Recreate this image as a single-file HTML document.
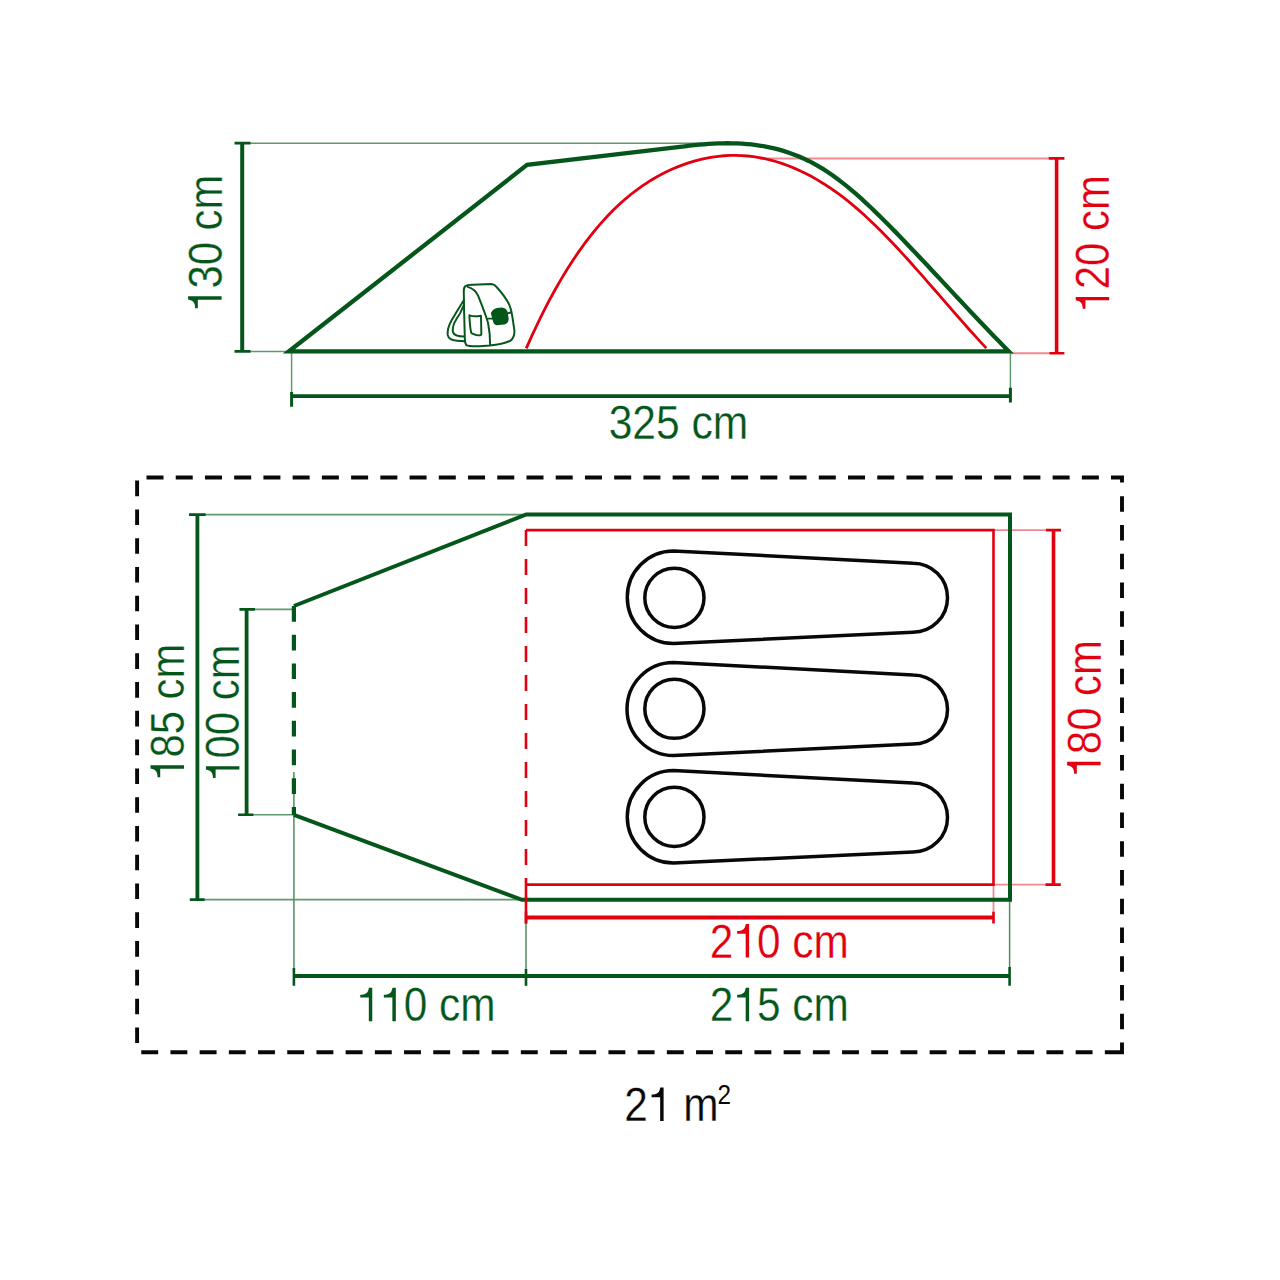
<!DOCTYPE html>
<html><head><meta charset="utf-8">
<style>
html,body{margin:0;padding:0;background:#fff;width:1280px;height:1280px;overflow:hidden}
svg{display:block}
text{font-family:"Liberation Sans",sans-serif}
</style></head><body>
<svg width="1280" height="1280" viewBox="0 0 1280 1280">
<rect width="1280" height="1280" fill="#fff"/>
<g fill="none">
<path d="M250 143.2 H715 M250 351.4 H290" stroke="#5f9a6d" stroke-width="1.5" />
<path d="M291.6 351 V392 M1010.4 351 V388" stroke="#5f9a6d" stroke-width="1.5" />
<path d="M760 158.4 H1049 M1010 353.2 H1049" stroke="#f08a90" stroke-width="2" />
<path d="M242.2 143.1 V351.4" stroke="#05561b" stroke-width="4" />
<path d="M234.5 143.1 H250.5 M234.5 351.4 H250.5" stroke="#05561b" stroke-width="2.6" />
<path d="M291.6 396.1 H1010.4" stroke="#05561b" stroke-width="3.6" />
<path d="M291.6 392 V406.7 M1010.4 387.7 V402.4" stroke="#05561b" stroke-width="3" />
<path d="M1056.6 158.4 V353.2" stroke="#e1000f" stroke-width="3.6" />
<path d="M1048.8 158.4 H1064.4 M1049.3 353.2 H1064.4" stroke="#e1000f" stroke-width="2.6" />
<path d="M526.25 348.35 L532.07 335.37 L537.90 322.98 L543.72 311.18 L549.54 299.95 L555.36 289.28 L561.19 279.14 L567.01 269.54 L572.83 260.44 L578.66 251.84 L584.48 243.72 L590.30 236.07 L596.12 228.87 L601.95 222.10 L607.77 215.75 L613.59 209.81 L619.41 204.25 L625.24 199.07 L631.06 194.26 L636.88 189.78 L642.71 185.64 L648.53 181.80 L654.35 178.27 L660.17 175.03 L666.00 172.05 L671.82 169.32 L677.64 166.84 L683.47 164.61 L689.29 162.61 L695.11 160.86 L700.93 159.35 L706.76 158.09 L712.58 157.06 L718.40 156.28 L724.22 155.74 L730.05 155.45 L735.87 155.39 L741.69 155.58 L747.52 156.01 L753.34 156.68 L759.16 157.59 L764.98 158.74 L770.81 160.13 L776.63 161.76 L782.45 163.63 L788.28 165.75 L794.10 168.10 L799.92 170.69 L805.74 173.52 L811.57 176.59 L817.39 179.90 L823.21 183.44 L829.03 187.22 L834.86 191.23 L840.68 195.48 L846.50 199.96 L852.33 204.67 L858.15 209.62 L863.97 214.80 L869.79 220.19 L875.62 225.77 L881.44 231.54 L887.26 237.48 L893.09 243.56 L898.91 249.78 L904.73 256.12 L910.55 262.55 L916.38 269.08 L922.20 275.67 L928.02 282.31 L933.84 288.99 L939.67 295.69 L945.49 302.40 L951.31 309.10 L957.14 315.76 L962.96 322.39 L968.78 328.95 L974.60 335.44 L980.43 341.83 L986.25 348.12" stroke="#e1000f" stroke-width="2.8" stroke-linejoin="round"/>
<path d="M289 351.3 L527 164.9 L680.00 146.89 L684.76 146.29 L689.53 145.72 L694.29 145.20 L699.06 144.73 L703.82 144.31 L708.59 143.96 L713.35 143.67 L718.12 143.45 L722.88 143.32 L727.64 143.26 L732.41 143.30 L737.17 143.44 L741.94 143.67 L746.70 144.02 L751.47 144.47 L756.23 145.05 L761.00 145.75 L765.76 146.58 L770.53 147.55 L775.29 148.67 L780.05 149.93 L784.82 151.34 L789.58 152.92 L794.35 154.66 L799.11 156.57 L803.88 158.66 L808.64 160.94 L813.41 163.40 L818.17 166.06 L822.93 168.91 L827.70 171.98 L832.46 175.24 L837.23 178.70 L841.99 182.34 L846.76 186.14 L851.52 190.10 L856.29 194.20 L861.05 198.44 L865.82 202.79 L870.58 207.26 L875.34 211.83 L880.11 216.49 L884.87 221.22 L889.64 226.02 L894.40 230.87 L899.17 235.76 L903.93 240.70 L908.70 245.67 L913.46 250.67 L918.22 255.70 L922.99 260.75 L927.75 265.82 L932.52 270.91 L937.28 276.01 L942.05 281.12 L946.81 286.23 L951.58 291.35 L956.34 296.45 L961.11 301.56 L965.87 306.65 L970.63 311.72 L975.40 316.77 L980.16 321.81 L984.93 326.81 L989.69 331.78 L994.46 336.72 L999.22 341.62 L1003.99 346.47 L1008.75 351.28 Z" stroke="#05561b" stroke-width="4.3" stroke-linejoin="miter"/>
</g>
<g transform="translate(436 277) scale(0.07031)" fill="none" stroke="#05561b" stroke-width="28" stroke-linejoin="round" stroke-linecap="round">
<path d="M420 130 Q440 112 520 110 L790 100 Q830 105 855 135 Q980 270 1040 390 Q1075 470 1085 560 L1115 760 Q1120 860 1060 905 Q960 955 760 975 L620 985 Q470 990 430 968 Q412 945 410 880 L400 500 L395 200 Q395 145 420 130 Z"/>
<path d="M450 140 Q560 170 600 270 Q700 520 740 650 Q770 800 770 972"/>
<path d="M395 330 Q300 480 220 620 Q160 730 165 820 Q180 900 300 908 L410 915"/>
<path d="M392 405 Q350 520 290 600 Q230 690 240 780 Q260 845 400 845"/>
<path d="M475 545 Q550 570 640 550 L645 810 Q640 832 600 830 Q520 815 500 790 Q480 700 475 545 Z"/>
<path d="M740 592 L820 592 M1000 522 L1062 505"/>
<path d="M795 515 Q815 470 870 455 L935 448 Q990 455 1005 500 L1020 600 Q1015 650 970 663 L860 672 Q835 668 828 640 Z" fill="#05561b"/>
</g>
<g fill="none">
<path d="M146.5 477.5 H1111" stroke="#080808" stroke-width="3.9" stroke-dasharray="17 12.23"/>
<path d="M1111 477.5 H1122 V482.5" stroke="#080808" stroke-width="3.9" />
<path d="M137.1 480.6 V1043.1" stroke="#080808" stroke-width="3.9" stroke-dasharray="15.6 13.18"/>
<path d="M1122 496.25 V1029.4" stroke="#080808" stroke-width="3.9" stroke-dasharray="15.6 13.15"/>
<path d="M141.25 1052.25 H1105" stroke="#080808" stroke-width="3.9" stroke-dasharray="16.9 12.3"/>
<path d="M1105 1052.25 H1122 V1042.5" stroke="#080808" stroke-width="3.9" />
<path d="M205 514.6 H526 M205 899.65 H522 M255 609.4 H293.9 M253.6 814.8 H293.9" stroke="#5f9a6d" stroke-width="1.6" />
<path d="M293.9 772 V975 M526 923 V985.8 M1009.6 900 V967" stroke="#4f8c5e" stroke-width="1.5" />
<path d="M993.5 530.1 H1046 M993.5 884.6 H1046 M993.5 884.6 V911" stroke="#f08a90" stroke-width="1.8" />
<path d="M197.4 514.6 V899.65" stroke="#05561b" stroke-width="3.8" />
<path d="M189 514.6 H205.6 M189.8 899.65 H204.8" stroke="#05561b" stroke-width="2.6" />
<path d="M246.6 609.4 V814.8" stroke="#05561b" stroke-width="3.8" />
<path d="M239.4 609.4 H255 M238.1 814.8 H253.6" stroke="#05561b" stroke-width="2.6" />
<path d="M293.9 606 L526.3 514.4 H1010 V899.8 H522 L293.9 814.8" stroke="#05561b" stroke-width="4" stroke-linejoin="miter"/>
<path d="M293.9 606 V815" stroke="#05561b" stroke-width="4.2" stroke-dasharray="15.7 13"/>
<path d="M526 530.1 H993.5 V884.6 H526" stroke="#e1000f" stroke-width="2.6" />
<path d="M526 530.1 V923.5" stroke="#e1000f" stroke-width="2.6" stroke-dasharray="16 13 16 13 16 13 16 13 16 13 16 13 16 13 16 13 16 13 16 13 16 13 16 13 60"/>
<path d="M526 917.6 H993.5" stroke="#e1000f" stroke-width="4" />
<path d="M526 911.4 V923.5 M993.5 911.4 V923.5" stroke="#e1000f" stroke-width="2.6" />
<path d="M1053.5 530.1 V884.6" stroke="#e1000f" stroke-width="3.6" />
<path d="M1046 530.1 H1061 M1045.5 884.6 H1060.8" stroke="#e1000f" stroke-width="2.6" />
<path d="M293.9 976 H1009.6" stroke="#05561b" stroke-width="3.8" />
<path d="M293.9 968 V985.8 M526 969 V985.8 M1009.6 967 V985.8" stroke="#05561b" stroke-width="2.6" />
<g stroke="#080808" stroke-width="3.5">
<path d="M673.5 551 L913 563.2 A34.5 34.5 0 0 1 913 632.2 L673.5 643.5 A46.25 46.25 0 0 1 673.5 551 Z"/><circle cx="674.4" cy="597.8" r="29.6"/>
<path d="M673.5 662.5 L913 675.0 A34.5 34.5 0 0 1 913 744.0 L673.5 755.5 A46.5 46.5 0 0 1 673.5 662.5 Z"/><circle cx="674.4" cy="708.75" r="29.6"/>
<path d="M673.5 770.6 L913 782.9 A34.5 34.5 0 0 1 913 851.9 L673.5 863.1 A46.25 46.25 0 0 1 673.5 770.6 Z"/><circle cx="674.4" cy="816.9" r="29.6"/>
</g>
</g>
<g transform="translate(678.5 439) scale(0.875 1)" fill="#05561b"><text x="-79.85" y="0" style="font-size:48.7px" stroke="#fff" stroke-width="0.3">325 cm</text></g>
<g transform="translate(221.6 243.2) rotate(-90) scale(0.86 1)" fill="#05561b"><text x="-79.85" y="0" style="font-size:48.7px" stroke="#fff" stroke-width="0.3"> 30 cm</text><path transform="translate(-79.85 0) scale(0.02378 -0.02378)" d="M594 0L594 1000L181 1000L181 1112C420 1112 560 1180 600 1409L761 1409L761 0Z"/></g>
<g transform="translate(1109.2 243.8) rotate(-90) scale(0.86 1)" fill="#e1000f"><text x="-79.85" y="0" style="font-size:48.7px" stroke="#fff" stroke-width="0.3"> 20 cm</text><path transform="translate(-79.85 0) scale(0.02378 -0.02378)" d="M594 0L594 1000L181 1000L181 1112C420 1112 560 1180 600 1409L761 1409L761 0Z"/></g>
<g transform="translate(184 712.2) rotate(-90) scale(0.86 1)" fill="#05561b"><text x="-79.85" y="0" style="font-size:48.7px" stroke="#fff" stroke-width="0.3"> 85 cm</text><path transform="translate(-79.85 0) scale(0.02378 -0.02378)" d="M594 0L594 1000L181 1000L181 1112C420 1112 560 1180 600 1409L761 1409L761 0Z"/></g>
<g transform="translate(239.4 713.1) rotate(-90) scale(0.86 1)" fill="#05561b"><text x="-79.85" y="0" style="font-size:48.7px" stroke="#fff" stroke-width="0.3"> 00 cm</text><path transform="translate(-79.85 0) scale(0.02378 -0.02378)" d="M594 0L594 1000L181 1000L181 1112C420 1112 560 1180 600 1409L761 1409L761 0Z"/></g>
<g transform="translate(1100.6 708.75) rotate(-90) scale(0.86 1)" fill="#e1000f"><text x="-79.85" y="0" style="font-size:48.7px" stroke="#fff" stroke-width="0.3"> 80 cm</text><path transform="translate(-79.85 0) scale(0.02378 -0.02378)" d="M594 0L594 1000L181 1000L181 1112C420 1112 560 1180 600 1409L761 1409L761 0Z"/></g>
<g transform="translate(779.3 957.5) scale(0.87 1)" fill="#e1000f"><text x="-79.85" y="0" style="font-size:48.7px" stroke="#fff" stroke-width="0.3">2 0 cm</text><path transform="translate(-52.77 0) scale(0.02378 -0.02378)" d="M594 0L594 1000L181 1000L181 1112C420 1112 560 1180 600 1409L761 1409L761 0Z"/></g>
<g transform="translate(779.3 1021.25) scale(0.87 1)" fill="#05561b"><text x="-79.85" y="0" style="font-size:48.7px" stroke="#fff" stroke-width="0.3">2 5 cm</text><path transform="translate(-52.77 0) scale(0.02378 -0.02378)" d="M594 0L594 1000L181 1000L181 1112C420 1112 560 1180 600 1409L761 1409L761 0Z"/></g>
<g transform="translate(426 1021.25) scale(0.87 1)" fill="#05561b"><text x="-79.85" y="0" style="font-size:48.7px" stroke="#fff" stroke-width="0.3">  0 cm</text><path transform="translate(-79.85 0) scale(0.02378 -0.02378)" d="M594 0L594 1000L181 1000L181 1112C420 1112 560 1180 600 1409L761 1409L761 0Z"/><path transform="translate(-52.77 0) scale(0.02378 -0.02378)" d="M594 0L594 1000L181 1000L181 1112C420 1112 560 1180 600 1409L761 1409L761 0Z"/></g>
<g transform="translate(624.3 1121) scale(0.87 1)" fill="#080808"><text x="0.00" y="0" style="font-size:48.7px" stroke="#fff" stroke-width="0.3">2  m</text><path transform="translate(27.08 0) scale(0.02378 -0.02378)" d="M594 0L594 1000L181 1000L181 1112C420 1112 560 1180 600 1409L761 1409L761 0Z"/></g>
<g fill="#080808" transform="translate(717.5 1104) scale(0.9 1)"><text style="font-size:27px">2</text></g>
</svg>
</body></html>
